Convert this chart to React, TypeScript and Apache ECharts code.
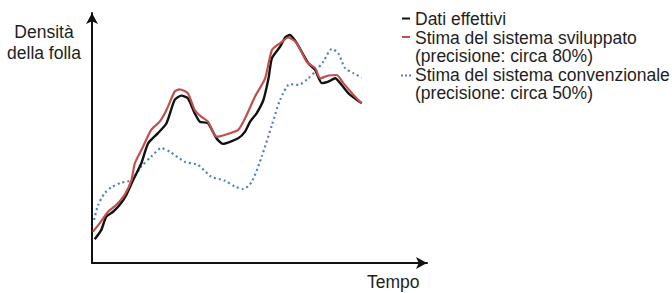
import React, { useEffect, useRef } from "react";
import * as echarts from "echarts";

// Time (x, 0-100) and crowd density (y, 0-100)
const actualX = [0.8, 2.7, 4.2, 6.2, 8.1, 10.1, 12.1, 14.5, 16.5, 19.4, 21.9, 24.3, 26.3, 28.2, 30.2, 31.7, 34.1, 36.6, 38.5, 43.0, 45.0, 46.5, 48.4, 50.4, 51.9, 52.9, 55.3, 56.8, 58.2, 60.2, 63.6, 65.6, 67.6, 69.5, 71.5, 73.4, 75.4, 79.3];
const actualY = [9.3, 12.9, 18.2, 20.1, 22.7, 26.7, 32.5, 39.1, 46.9, 50.9, 54.8, 63.9, 65.6, 64.6, 58.7, 55.4, 54.8, 48.9, 46.7, 48.9, 51.5, 55.4, 58.7, 63.9, 72.4, 80.3, 84.8, 88.4, 89.4, 86.2, 78.3, 75.7, 70.5, 71.1, 72.4, 69.8, 66.5, 62.6];

const devX = [0.3, 2.3, 4.7, 7.1, 9.6, 11.6, 12.6, 15.0, 17.4, 19.9, 21.9, 24.3, 25.8, 28.2, 30.2, 32.1, 34.1, 36.6, 39.0, 43.0, 45.0, 47.9, 50.9, 52.9, 55.3, 57.7, 60.2, 63.1, 65.6, 67.1, 69.5, 72.0, 73.9, 76.9, 79.3];
const devY = [12.3, 15.6, 20.1, 22.7, 26.7, 32.5, 39.1, 45.6, 52.2, 55.4, 60.0, 67.2, 68.1, 66.5, 60.0, 57.4, 55.4, 49.5, 50.2, 52.2, 56.7, 65.2, 72.4, 83.5, 86.2, 88.4, 86.2, 78.9, 76.4, 72.4, 73.5, 73.7, 70.5, 65.9, 62.6];

const convX = [0.6, 1.8, 3.7, 5.7, 8.6, 11.6, 14.5, 17.4, 20.4, 22.9, 27.3, 31.2, 35.1, 39.0, 42.1, 44.5, 47.0, 49.9, 52.9, 55.3, 58.2, 60.7, 63.6, 65.6, 68.0, 70.5, 72.4, 74.4, 76.9, 79.3];
const convY = [16.9, 22.7, 27.3, 29.7, 31.5, 32.5, 37.8, 41.7, 45.0, 43.6, 39.7, 38.4, 33.8, 32.3, 29.9, 29.0, 31.9, 41.7, 54.1, 63.9, 70.1, 69.8, 72.4, 75.0, 78.9, 83.9, 82.2, 76.4, 74.4, 72.7];

const yAxisTitle = ["Densità", "della folla"];
const xAxisTitle = "Tempo";
const legendLines = [
  "Dati effettivi",
  "Stima del sistema sviluppato",
  "(precisione: circa 80%)",
  "Stima del sistema convenzionale",
  "(precisione: circa 50%)",
];

const zip = (xs: number[], ys: number[]) => xs.map((x, i) => [x, ys[i]]);

const FONT = "'Liberation Sans', Arial, sans-serif";
const BLACK = "#111111";
const RED = "#c0504d";
const BLUE = "#4f81bd";

export default function App() {
  const ref = useRef<HTMLDivElement>(null);
  useEffect(() => {
    if (!ref.current) return;
    const chart = echarts.init(ref.current, undefined, { renderer: "svg" });
    const axisLine = {
      show: true,
      symbol: ["none", "arrow"],
      symbolSize: [9, 11],
      lineStyle: { color: "#111", width: 2 },
    };
    const txt = (x: number, y: number, text: string, align = "left") => ({
      type: "text",
      x,
      y,
      style: {
        text,
        font: `17.5px ${FONT}`,
        fill: "#1e1e1e",
        textAlign: align,
        textVerticalAlign: "middle",
      },
    });
    chart.setOption({
      animation: false,
      grid: { left: 92, right: 245, top: 13, bottom: 30 },
      xAxis: {
        type: "value",
        min: 0,
        max: 98.5,
        axisLine,
        axisTick: { show: false },
        axisLabel: { show: false },
        splitLine: { show: false },
      },
      yAxis: {
        type: "value",
        min: 0,
        max: 98,
        axisLine,
        axisTick: { show: false },
        axisLabel: { show: false },
        splitLine: { show: false },
      },
      series: [
        {
          name: "Stima del sistema convenzionale",
          type: "line",
          data: zip(convX, convY),
          showSymbol: false,
          smooth: 0.25,
          lineStyle: { color: BLUE, width: 2.2, type: [2, 3] },
        },
        {
          name: "Dati effettivi",
          type: "line",
          data: zip(actualX, actualY),
          showSymbol: false,
          smooth: 0.2,
          lineStyle: { color: BLACK, width: 2.4 },
        },
        {
          name: "Stima del sistema sviluppato",
          type: "line",
          data: zip(devX, devY),
          showSymbol: false,
          smooth: 0.2,
          lineStyle: { color: RED, width: 2.2 },
        },
      ],
      graphic: [
        txt(44, 32, yAxisTitle[0], "center"),
        txt(44, 53, yAxisTitle[1], "center"),
        txt(367, 282, xAxisTitle),
        { type: "line", shape: { x1: 402, y1: 18.5, x2: 410, y2: 18.5 }, style: { stroke: BLACK, lineWidth: 2 } },
        { type: "line", shape: { x1: 402, y1: 37, x2: 410, y2: 37 }, style: { stroke: RED, lineWidth: 2 } },
        { type: "line", shape: { x1: 401, y1: 75.5, x2: 412, y2: 75.5 }, style: { stroke: BLUE, lineWidth: 2, lineDash: [2, 2] } },
        txt(415, 18.5, legendLines[0]),
        txt(415, 37.5, legendLines[1]),
        txt(415, 56, legendLines[2]),
        txt(415, 74.5, legendLines[3]),
        txt(415, 93, legendLines[4]),
      ],
    });
    return () => chart.dispose();
  }, []);
  return (
    <div
      ref={ref}
      style={{ position: "fixed", left: 0, top: 0, width: 672, height: 293, background: "#fff" }}
    />
  );
}
